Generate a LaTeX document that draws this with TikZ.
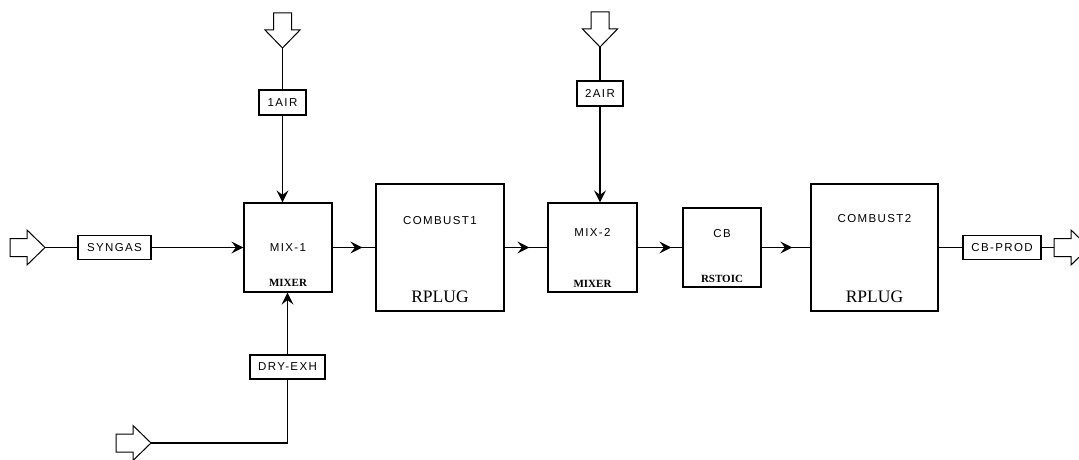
\documentclass[tikz,border=0pt]{standalone}
\usepackage{fontspec}
\setmainfont{Liberation Serif}
\newfontfamily\aspenfont[LetterSpace=12]{Liberation Sans}
\usetikzlibrary{positioning,arrows.meta,calc,decorations.markings}

\tikzset{
  block/.style={draw, line width=1.2pt, inner sep=0pt},
  stream/.style={draw, line width=1.2pt, inner sep=0pt, minimum height=24pt, font=\aspenfont\fontsize{11.5}{11.5}\selectfont},
  blocktag/.style={font=\aspenfont\fontsize{11.5}{11.5}\selectfont, inner sep=0pt},
  modeltag/.style={font=\bfseries\fontsize{11}{11}\selectfont, inner sep=0pt},
  plugtag/.style={font=\fontsize{17.5}{17.5}\selectfont, inner sep=0pt},
  flow/.style={line width=1.3pt},
  tip/.style={-{Stealth[length=12pt,width=12pt,inset=4.5pt]}},
  midtip/.style={postaction={decorate}, decoration={markings,
      mark=at position #1 with {\arrow{Stealth[length=12pt,width=12pt,inset=4.5pt]}}}},
  feedarrow/.pic={
    \draw[line width=1pt] (-35,9) -- (-18,9) -- (-18,17.5) -- (0,0) -- (-18,-17.5) -- (-18,-9) -- (-35,-9) -- cycle;
  }
}

\begin{document}
\begin{tikzpicture}[x=1pt, y=1pt]
  \useasboundingbox (0,0) rectangle (1079,-460);

  % unit blocks
  \node[block, minimum width=88pt, minimum height=89pt] (mix1) at (288,-247.5) {};
  \node[block, minimum width=128pt, minimum height=127pt] (comb1) at (440,-247.5) {};
  \node[block, minimum width=89pt, minimum height=89pt] (mix2) at (592.5,-247.5) {};
  \node[block, minimum width=78pt, minimum height=79pt] (cb) at (722,-247.5) {};
  \node[block, minimum width=127pt, minimum height=127pt] (comb2) at (874.5,-247.5) {};

  \node[blocktag] at (mix1) {MIX-1};
  \node[modeltag, above=5.5pt of mix1.south] {MIXER};
  \node[blocktag, below=33pt of comb1.north] {COMBUST1};
  \node[plugtag, above=9pt of comb1.south] {RPLUG};
  \node[blocktag, below=26pt of mix2.north] {MIX-2};
  \node[modeltag, above=5pt of mix2.south] {MIXER};
  \node[blocktag, below=22pt of cb.north] {CB};
  \node[modeltag, above=5pt of cb.south] {RSTOIC};
  \node[blocktag, below=31pt of comb2.north] {COMBUST2};
  \node[plugtag, above=9pt of comb2.south] {RPLUG};

  % stream tags
  \node[stream, minimum width=73pt] (syngas) at (114.5,-247.5) {SYNGAS};
  \node[stream, minimum width=47pt, minimum height=25pt] (air1) at (282.5,-102.5) {1AIR};
  \node[stream, minimum width=46pt, minimum height=25pt] (air2) at (600,-93.5) {2AIR};
  \node[stream, minimum width=75pt] (dryexh) at (287.5,-367) {DRY-EXH};
  \node[stream, minimum width=78pt] (cbprod) at (1002,-247.5) {CB-PROD};

  % feed and product arrows
  \coordinate (synin) at (45,-247.5);
  \coordinate (air1in) at (282.5,-48);
  \coordinate (air2in) at (600,-47);
  \coordinate (dryin) at (151,-443);
  \coordinate (prodout) at (1054,-247.5);
  \pic at (synin) {feedarrow};
  \pic[rotate=-90] at (air1in) {feedarrow};
  \pic[rotate=-90] at (air2in) {feedarrow};
  \pic at (dryin) {feedarrow};
  \pic at ($(prodout)+(35,0)$) {feedarrow};

  % streams
  \draw[flow] (synin) -- (syngas.west);
  \draw[flow, tip] (syngas.east) -- (mix1.west);
  \draw[flow] (air1in) -- (air1.north);
  \draw[flow, tip] (air1.south) -- (air1.south |- mix1.north);
  \draw[flow] (dryin) -| (dryexh.south);
  \draw[flow, tip] (dryexh.north) -- (dryexh.north |- mix1.south);
  \draw[flow, midtip=-13pt] (mix1.east) -- (comb1.west);
  \draw[flow, midtip=-18pt] (comb1.east) -- (mix2.west);
  \draw[flow] (air2in) -- (air2.north);
  \draw[flow, tip] (air2.south) -- (air2.south |- mix2.north);
  \draw[flow, midtip=-11pt] (mix2.east) -- (cb.west);
  \draw[flow, midtip=-18pt] (cb.east) -- (comb2.west);
  \draw[flow] (comb2.east) -- (cbprod.west);
  \draw[flow] (cbprod.east) -- (prodout);
\end{tikzpicture}
\end{document}
